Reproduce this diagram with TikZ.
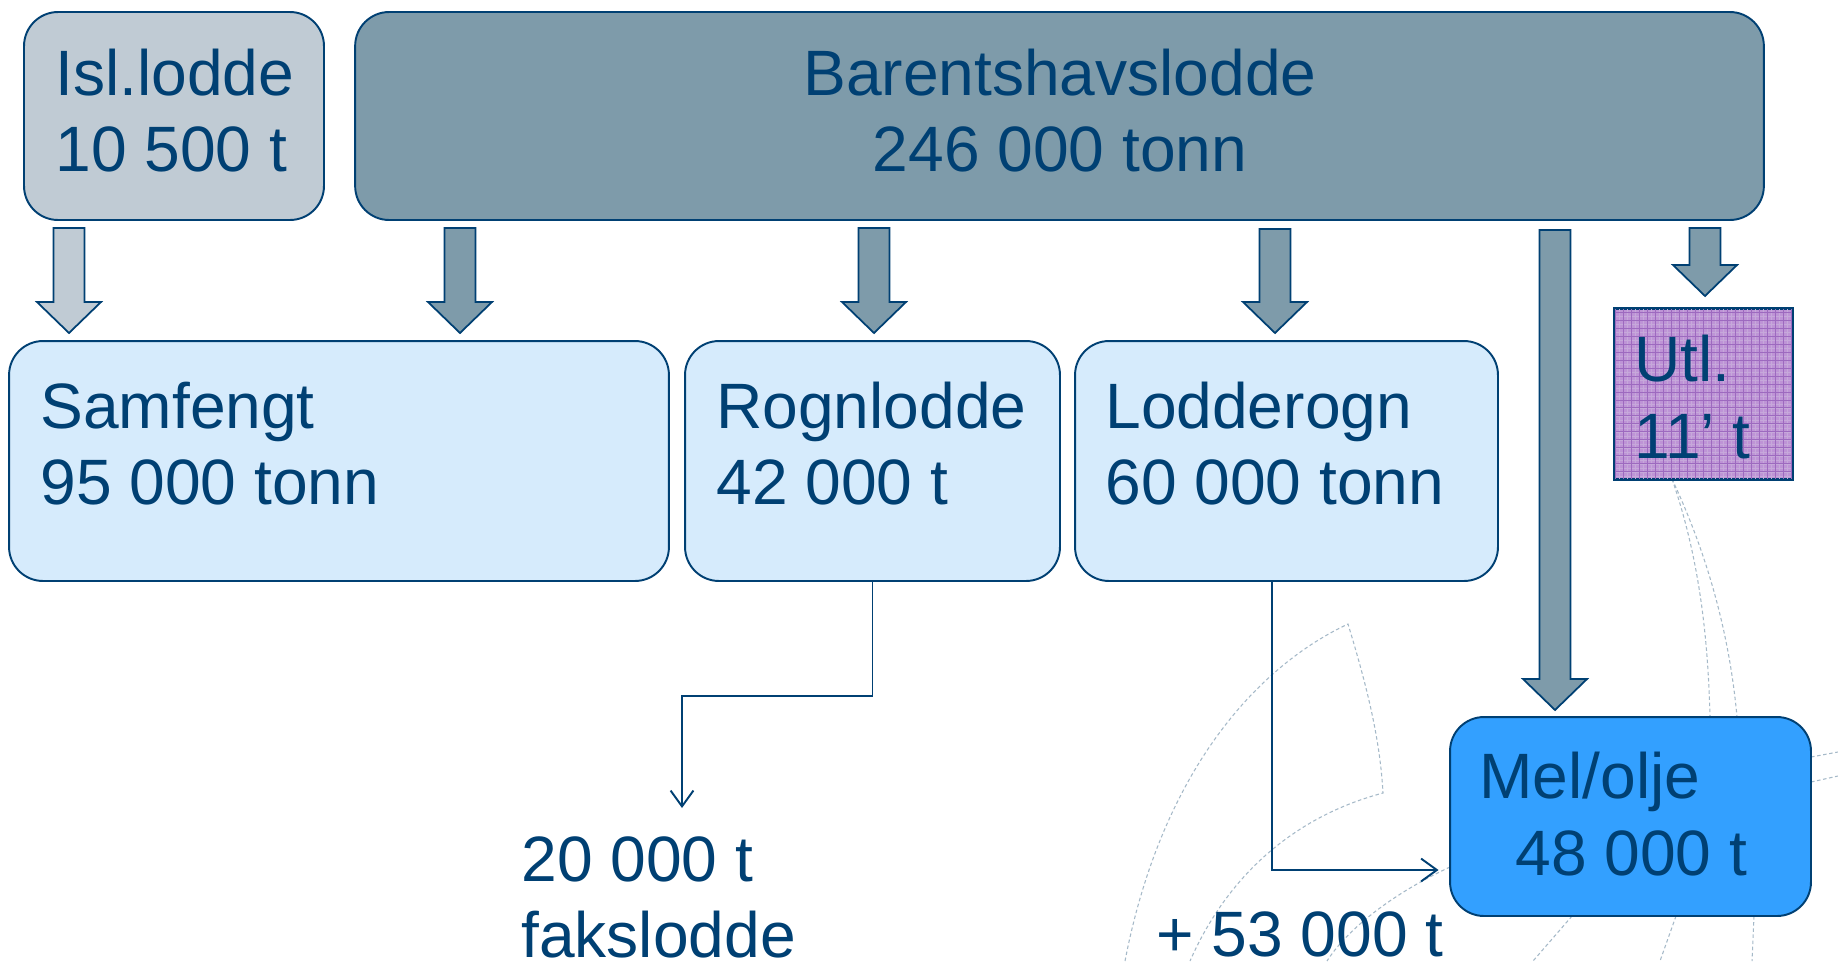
\documentclass[tikz,border=0pt]{standalone}
\usepackage{fontspec}
\setmainfont{Liberation Sans}
\usetikzlibrary{arrows.meta}
\definecolor{navy}{RGB}{0,64,115}
\definecolor{islfill}{RGB}{192,203,212}
\definecolor{barfill}{RGB}{126,155,170}
\definecolor{lightbox}{RGB}{214,235,252}
\definecolor{melfill}{RGB}{51,160,255}
\definecolor{utlfill}{RGB}{190,148,214}
\definecolor{utlgrid}{RGB}{140,80,180}
\definecolor{ghost}{RGB}{165,185,200}
\tikzset{
  box/.style={draw=navy, line width=1.1pt, rounded corners=0.68cm, inner sep=0pt},
  txt/.style={anchor=base west, inner sep=0pt, text=navy, font=\fontsize{36.5}{43}\selectfont},
  flow/.style={draw=navy, line width=1.1pt, -{Straight Barb[length=9pt,width=13pt]}},
  blk/.style={draw=navy, line width=1pt, fill=barfill},
  ghostline/.style={ghost, line width=0.6pt, dash pattern=on 2pt off 1.5pt},
}
% down block arrow: style, x, top, tip
\newcommand\dnarrow[4]{\draw[#1] (#2-15.5,#3) -- (#2+15.5,#3) -- (#2+15.5,#4-31) -- (#2+32,#4-31) -- (#2,#4) -- (#2-32,#4-31) -- (#2-15.5,#4-31) -- cycle;}
\begin{document}
\begin{tikzpicture}[x=0.02cm, y=-0.02cm]
\fill[white] (0,0) rectangle (1838,961);
\useasboundingbox (0,0) rectangle (1838,961);
% faint dashed traces
\draw[ghostline] (1125,961) .. controls (1160,780) and (1250,670) .. (1348,624) .. controls (1368,690) and (1380,740) .. (1383,793) .. controls (1300,815) and (1230,870) .. (1190,961);
\draw[ghostline] (1450,867) .. controls (1400,890) and (1350,925) .. (1327,961);
\draw[ghostline] (1672,479) .. controls (1700,560) and (1708,640) .. (1710,717);
\draw[ghostline] (1672,479) .. controls (1710,560) and (1730,640) .. (1737,717);
\draw[ghostline] (1811,757) -- (1838,752);
\draw[ghostline] (1811,782) -- (1838,776);
\draw[ghostline] (1572,916) -- (1533,961);
\draw[ghostline] (1676,916) -- (1660,961);
\draw[ghostline] (1754,916) -- (1752,961);
% boxes
\node (isl) at (174,116) [box, fill=islfill, minimum width=6cm, minimum height=4.16cm] {};
\node (bar) at (1059.5,116) [box, fill=barfill, minimum width=28.18cm, minimum height=4.16cm] {};
\node (sam) at (339,461) [box, fill=lightbox, minimum width=13.2cm, minimum height=4.8cm] {};
\node (rogn) at (872.5,461) [box, fill=lightbox, minimum width=7.5cm, minimum height=4.8cm] {};
\node (lrogn) at (1286.5,461) [box, fill=lightbox, minimum width=8.46cm, minimum height=4.8cm] {};
\node (mel) at (1630.5,816.5) [box, fill=melfill, minimum width=7.22cm, minimum height=3.98cm] {};
\node (utl) at (1703.5,394) [draw=navy, line width=1.1pt, fill=utlfill, minimum width=3.54cm, minimum height=3.4cm, inner sep=0pt] {};
\begin{scope}
\clip (utl.south west) rectangle (utl.north east);
\draw[utlgrid!50, line width=0.3pt, step=0.08cm] (utl.south west) grid (utl.north east);
\draw[utlgrid!85, line width=0.5pt, step=0.16cm] (utl.south west) grid (utl.north east);
\end{scope}
\draw[navy, line width=1.1pt] (utl.south west) rectangle (utl.north east);
% block arrows
\dnarrow{blk, fill=islfill}{69}{228}{333}
\dnarrow{blk}{460}{228}{333}
\dnarrow{blk}{874}{228}{333}
\dnarrow{blk}{1275}{229}{333}
\dnarrow{blk}{1555}{230}{710}
\dnarrow{blk}{1705}{228}{296}
% texts
\node (isl1) at (55,95) [txt] {Isl.lodde};
\node (isl2) at (55,171) [txt] {10 500 t};
\node (bar1) at (1060,95) [txt, anchor=base] {Barentshavslodde};
\node (bar2) at (1060,171) [txt, anchor=base] {246 000 tonn};
\node (sam1) at (40,428) [txt] {Samfengt};
\node (sam2) at (40,504) [txt] {95 000 tonn};
\node (rogn1) at (716,428) [txt] {Rognlodde};
\node (rogn2) at (716,504) [txt] {42 000 t};
\node (lrogn1) at (1105,428) [txt] {Lodderogn};
\node (lrogn2) at (1105,504) [txt] {60 000 tonn};
\node (utl1) at (1634,381) [txt] {Utl.};
\node (utl2) at (1634,458) [txt] {11’ t};
\node (mel1) at (1479,798) [txt] {Mel/olje};
\node (mel2) at (1515,875) [txt] {48 000 t};
\node (fak1) at (521,881) [txt] {20 000 t};
\node (fak2) at (521,957) [txt] {fakslodde};
\node (plus) at (1156,956) [txt] {+ 53 000 t};
% thin connectors
\coordinate (fakin) at (682,808);
\draw[flow] (rogn.south) -- ++(0,114) -| (fakin);
\draw[flow, shorten >=6pt] ([xshift=-0.29cm]lrogn.south) |- ([yshift=-1.07cm]mel.west);
\end{tikzpicture}
\end{document}
